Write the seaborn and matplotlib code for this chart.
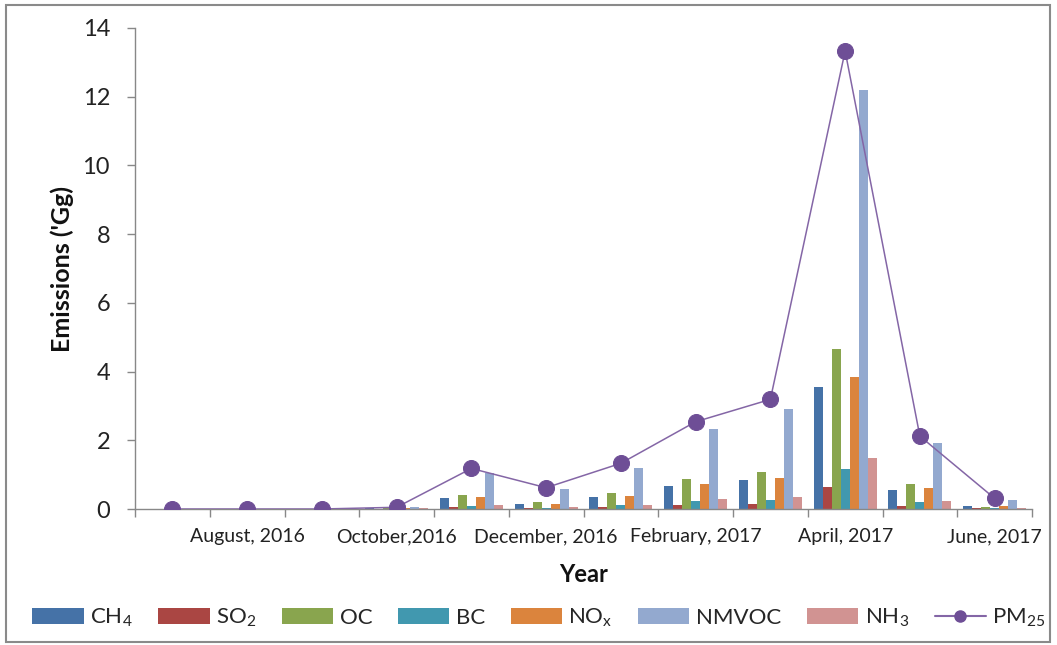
import numpy as np
import pandas as pd
import matplotlib
matplotlib.use("Agg")
import matplotlib.pyplot as plt
from matplotlib.patches import Rectangle
from matplotlib.lines import Line2D
from matplotlib.ticker import FixedLocator, NullFormatter
import seaborn as sns

# Monthly emissions, July 2016 - June 2017
months = ["Jul 2016", "Aug 2016", "Sep 2016", "Oct 2016", "Nov 2016", "Dec 2016",
          "Jan 2017", "Feb 2017", "Mar 2017", "Apr 2017", "May 2017", "Jun 2017"]
tick_labels = ["August, 2016", "October,2016", "December, 2016",
               "February, 2017", "April, 2017", "June, 2017"]

ch4 = [0, 0, 0.01, 0.03, 0.31, 0.15, 0.34, 0.68, 0.84, 3.54, 0.56, 0.08]
so2 = [0, 0, 0.005, 0.01, 0.05, 0.04, 0.07, 0.13, 0.15, 0.65, 0.09, 0.04]
oc = [0, 0, 0.01, 0.04, 0.41, 0.19, 0.46, 0.86, 1.09, 4.67, 0.72, 0.07]
bc = [0, 0, 0.005, 0.01, 0.08, 0.04, 0.12, 0.23, 0.26, 1.16, 0.19, 0.04]
nox = [0, 0, 0.01, 0.03, 0.34, 0.16, 0.38, 0.72, 0.91, 3.85, 0.60, 0.08]
nmvoc = [0, 0, 0.01, 0.05, 1.05, 0.57, 1.20, 2.32, 2.92, 12.2, 1.91, 0.27]
nh3 = [0, 0, 0.005, 0.03, 0.12, 0.05, 0.12, 0.28, 0.34, 1.47, 0.23, 0.03]
pm25 = [0, 0, 0, 0.05, 1.18, 0.62, 1.33, 2.54, 3.19, 13.33, 2.12, 0.31]

series_names = [r"CH$_4$", r"SO$_2$", "OC", "BC", r"NO$_x$", "NMVOC", r"NH$_3$"]
series_values = [ch4, so2, oc, bc, nox, nmvoc, nh3]
pm_name = r"PM$_{25}$"
colors = ["#4572A7", "#AA4643", "#89A54E", "#4198AF", "#DB843D", "#93A9CF", "#D19392"]
pm_color = "#8466A6"
marker_color = "#6E4E96"

sns.set_theme(style="white")
plt.rcParams["font.family"] = ["Lato", "DejaVu Sans"]
plt.rcParams["mathtext.fontset"] = "custom"
plt.rcParams["mathtext.rm"] = "Lato"
plt.rcParams["mathtext.it"] = "Lato"
plt.rcParams["mathtext.bf"] = "Lato:bold"

df = pd.DataFrame({
    "month": np.repeat(months, len(series_names)).tolist(),
    "species": series_names * len(months),
    "value": [series_values[s][m] for m in range(len(months)) for s in range(len(series_names))],
})

fig = plt.figure(figsize=(10.57, 6.45), dpi=100)
ax = fig.add_axes([135 / 1057, 1 - 509 / 645, (1032 - 135) / 1057, (509 - 28) / 645])

sns.barplot(data=df, x="month", y="value", hue="species", order=months,
            hue_order=series_names, palette=colors, width=0.84, saturation=1,
            linewidth=0, ax=ax)
sns.lineplot(x=np.arange(len(months)), y=pm25, color=pm_color, linewidth=1.1,
             marker="o", markersize=11.5, markerfacecolor=marker_color,
             markeredgecolor=marker_color, label=pm_name, ax=ax, zorder=5)

ax.set_xlim(-0.5, len(months) - 0.5)
ax.set_ylim(0, 14)
ax.set_yticks(np.arange(0, 15, 2))
ax.tick_params(axis="y", direction="out", length=6, width=1, color="#888888",
               labelsize=17, pad=12, left=True, labelcolor="#222222")

ax.set_xticks([1, 3, 5, 7, 9, 11])
ax.set_xticklabels(tick_labels)
ax.xaxis.set_minor_locator(FixedLocator(np.arange(-0.5, len(months), 1.0)))
ax.xaxis.set_minor_formatter(NullFormatter())
ax.tick_params(axis="x", which="major", length=0, labelsize=14, pad=14,
               labelcolor="#222222")
ax.tick_params(axis="x", which="minor", direction="out", length=6, width=1,
               color="#888888", bottom=True)

for side in ["top", "right"]:
    ax.spines[side].set_visible(False)
for side in ["left", "bottom"]:
    ax.spines[side].set_color("#888888")
    ax.spines[side].set_linewidth(1)

ax.set_xlabel("Year", fontsize=17, fontweight="bold", labelpad=13, color="#111111")
ax.set_ylabel("Emissions ('Gg)", fontsize=18, fontweight="bold", labelpad=6,
              color="#111111")

handles, labels = ax.get_legend_handles_labels()
ax.get_legend().remove()
handles[-1] = Line2D([], [], color=pm_color, linewidth=1.5, marker="o",
                     markersize=8, markerfacecolor=marker_color,
                     markeredgecolor=marker_color)
fig.legend(handles, labels, loc="center", bbox_to_anchor=(0.51, 1 - 618 / 645),
           ncol=8, frameon=False, fontsize=16, handlelength=2.3, handleheight=0.7,
           columnspacing=1.15, handletextpad=0.3)

fig.patches.append(Rectangle((6 / 1057, 3 / 645), 1044 / 1057, 637 / 645,
                             transform=fig.transFigure, fill=False,
                             edgecolor="#8a8a8a", linewidth=1.5))

fig.savefig("out.png", dpi=100)
